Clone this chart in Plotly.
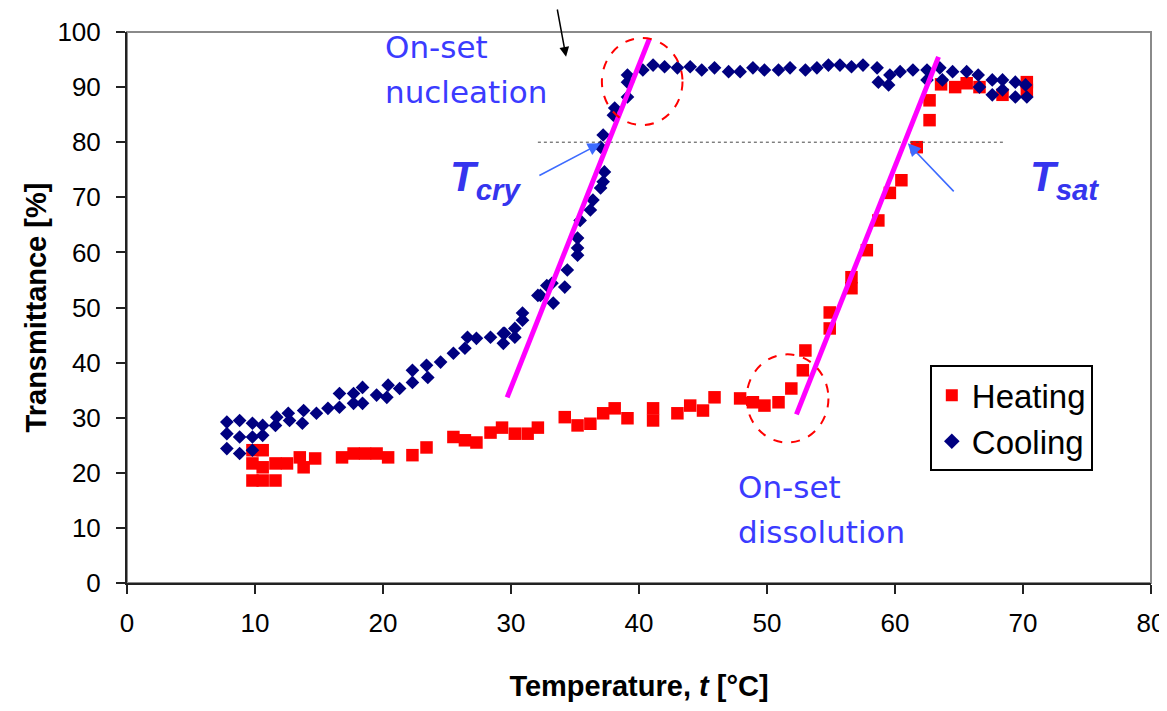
import plotly.graph_objects as go

# ---------------- data ----------------
heating_t = [9.8, 9.8, 9.8, 10.6, 10.6, 10.6, 11.6, 11.6, 12.5, 13.5, 13.8, 14.7,
             16.8, 17.7, 18.6, 19.5, 20.4, 22.3, 23.4, 25.5, 26.4, 27.3, 28.4, 29.3,
             30.3, 31.3, 32.1, 34.2, 35.2, 36.2, 37.2, 38.1, 39.1, 41.1, 41.1, 43.0,
             44.0, 45.0, 45.9, 47.9, 48.9, 49.8, 50.9, 51.9, 52.8, 53.0, 54.9, 54.9,
             56.6, 56.6, 57.8, 58.7, 59.6, 60.5, 61.7, 62.7, 62.7, 63.6, 64.7, 65.6,
             66.6, 68.4, 70.3, 70.3]
heating_T = [18.6, 21.7, 24.1, 24.1, 21.0, 18.6, 21.7, 18.6, 21.7, 22.8, 21.0, 22.6,
             22.8, 23.5, 23.5, 23.5, 22.8, 23.2, 24.6, 26.5, 25.9, 25.5, 27.3, 28.2,
             27.1, 27.1, 28.2, 30.1, 28.6, 28.9, 30.8, 31.7, 29.9, 31.7, 29.5, 30.8,
             32.2, 31.3, 33.7, 33.5, 32.8, 32.2, 32.8, 35.3, 38.6, 42.2, 46.2, 49.1,
             53.5, 55.5, 60.4, 65.8, 70.8, 73.1, 79.1, 84.0, 87.6, 90.5, 90.0, 90.7,
             90.0, 88.6, 90.9, 89.5]

cooling_t = [7.8, 7.8, 7.8, 8.8, 8.8, 8.8, 9.8, 9.8, 9.8, 10.6, 10.6, 11.6, 11.7,
             12.6, 12.7, 13.7, 13.8, 14.8, 15.7, 16.6, 16.6, 17.7, 17.7, 18.4, 18.4,
             19.5, 20.3, 20.4, 21.3, 22.3, 22.3, 23.4, 23.5, 24.5, 25.5, 26.4, 26.6,
             27.3, 28.4, 29.4, 29.4, 29.5, 30.3, 30.3, 30.9, 30.9, 32.1, 32.3, 32.8,
             33.2, 33.3, 34.2, 34.4, 35.2, 35.2, 35.2, 35.4, 36.2, 36.4, 37.0, 37.2,
             37.3, 37.0, 37.2, 38.0, 38.1, 39.1, 39.1, 39.1, 40.3, 41.1, 42.0, 43.0,
             44.0, 44.9, 45.9, 47.0, 47.9, 48.9, 49.8, 50.9, 51.8, 53.0, 53.9, 54.8,
             55.7, 56.6, 57.5, 58.6, 58.7, 59.5, 59.6, 60.4, 61.4, 62.5, 62.5, 63.5,
             63.7, 64.5, 65.6, 66.5, 66.6, 67.6, 67.6, 68.4, 68.4, 69.4, 69.4, 70.2,
             70.3]
cooling_T = [29.2, 27.1, 24.4, 29.5, 26.5, 23.5, 29.0, 26.5, 24.1, 28.6, 26.8, 28.6,
             30.1, 30.8, 29.5, 29.0, 31.3, 30.8, 31.7, 34.4, 31.9, 34.4, 32.6, 35.5,
             32.6, 34.1, 33.7, 35.9, 35.3, 38.6, 36.4, 39.5, 37.3, 40.1, 41.7, 42.6,
             44.6, 44.4, 44.6, 45.3, 43.5, 45.3, 46.2, 44.6, 47.7, 49.0, 52.2, 52.2,
             54.0, 54.4, 50.8, 53.7, 56.8, 59.5, 62.6, 60.8, 65.8, 67.7, 69.5, 71.7,
             72.8, 74.6, 79.1, 81.3, 84.9, 86.2, 88.2, 90.9, 92.2, 93.1, 94.0, 93.7,
             93.5, 93.7, 93.1, 93.5, 92.8, 92.8, 93.5, 93.1, 93.1, 93.5, 93.1, 93.5,
             94.0, 94.0, 93.7, 94.0, 93.5, 90.9, 90.4, 92.2, 92.8, 93.1, 93.1, 91.3,
             93.5, 91.3, 92.8, 92.8, 92.2, 90.0, 91.3, 88.6, 91.3, 89.5, 90.9, 88.2,
             90.4, 88.2]

x_ticks = [0, 10, 20, 30, 40, 50, 60, 70, 80]
y_ticks = [0, 10, 20, 30, 40, 50, 60, 70, 80, 90, 100]

# annotation geometry (data units)
tangent_cry = [(29.7, 33.7), (40.8, 98.7)]
tangent_sat = [(52.3, 30.6), (63.4, 95.5)]
circle_nucl = [(37.1, 83.1), (43.4, 98.9)]
circle_diss = [(48.4, 25.5), (54.8, 41.5)]
ref_line = [(32.1, 80), (68.5, 80)]
arrow_cry = [(32.1, 73.8), (37.0, 79.8)]
arrow_sat = [(64.7, 70.8), (61.0, 79.8)]

BLUE = "#3b3bff"
TICKFONT = dict(family="Liberation Sans Narrow, Arial Narrow, Liberation Sans, Arial",
                size=26, color="black")

fig = go.Figure()
fig.add_trace(go.Scatter(
    x=heating_t, y=heating_T, mode="markers", name="Heating",
    marker=dict(symbol="square", size=12.5, color="#ff0000", line=dict(width=0))))
fig.add_trace(go.Scatter(
    x=cooling_t, y=cooling_T, mode="markers", name="Cooling",
    marker=dict(symbol="diamond", size=10.5, color="#000080", line=dict(width=0))))

shapes = []
# grey top/right border of plot area
shapes.append(dict(type="rect", xref="paper", yref="paper", layer="below",
                   x0=0, x1=1, y0=0, y1=1, line=dict(color="#8a8a8a", width=2)))
# reference dotted line
shapes.append(dict(type="line", x0=ref_line[0][0], y0=ref_line[0][1],
                   x1=ref_line[1][0], y1=ref_line[1][1],
                   line=dict(color="#444444", width=1, dash="dot")))
# tangents
for seg in (tangent_cry, tangent_sat):
    shapes.append(dict(type="line", x0=seg[0][0], y0=seg[0][1], x1=seg[1][0], y1=seg[1][1],
                       line=dict(color="#ff00ff", width=5)))
# dashed circles
for c in (circle_nucl, circle_diss):
    shapes.append(dict(type="circle", x0=c[0][0], y0=c[0][1], x1=c[1][0], y1=c[1][1],
                       line=dict(color="#ff0000", width=2, dash="dash")))

annotations = []
def txt(x, y, s, size=31, color=BLUE, family="DejaVu Sans, Verdana, sans-serif"):
    annotations.append(dict(x=x, y=y, text=s, showarrow=False, xanchor="left",
                            yanchor="middle", font=dict(family=family, size=size, color=color)))

txt(20.0, 97.3, "On-set")
txt(20.0, 89.2, "nucleation")
txt(47.6, 17.4, "On-set")
txt(47.6, 9.2, "dissolution")
txt(25.1, 73.3, "<b><i>T<sub>cry</sub></i></b>", size=42, color="#3535ee",
    family="Liberation Sans, Arial, sans-serif")
txt(70.4, 73.3, "<b><i>T<sub>sat</sub></i></b>", size=42, color="#3535ee",
    family="Liberation Sans, Arial, sans-serif")

for a in (arrow_cry, arrow_sat):
    annotations.append(dict(x=a[1][0], y=a[1][1], ax=a[0][0], ay=a[0][1],
                            axref="x", ayref="y", xref="x", yref="y", text="",
                            showarrow=True, arrowhead=2, arrowsize=1.6, arrowwidth=1.6,
                            arrowcolor="#3d6bff", standoff=0))
# black arrow from top
annotations.append(dict(x=34.3, y=95.5, ax=-9, ay=-60, text="", showarrow=True,
                        arrowhead=2, arrowsize=1.3, arrowwidth=1.5, arrowcolor="black",
                        standoff=0))

# page body has an 8px margin: figure sized/placed so the plot area lands where the
# reference has it (plot area x 127..1151, y 32..582 in the 1167x711 window)
fig.update_layout(
    width=1151, height=695,
    margin=dict(l=119, r=8, t=24, b=120, autoexpand=False),
    paper_bgcolor="white", plot_bgcolor="white",
    shapes=shapes, annotations=annotations,
    showlegend=True,
    legend=dict(x=0.784, y=0.395, xanchor="left", yanchor="top",
                bgcolor="white", bordercolor="black", borderwidth=2,
                font=dict(family="Liberation Sans, Arial, sans-serif", size=33, color="black"),
                itemsizing="constant"),
    xaxis=dict(range=[0, 80], tickvals=x_ticks, ticktext=[str(v) for v in x_ticks],
               automargin=False,
               showgrid=False, zeroline=False, showline=True, linecolor="#222222",
               linewidth=2, ticks="outside", ticklen=9, tickwidth=2, tickcolor="#222222",
               tickfont=TICKFONT, ticklabelstandoff=7, ticklabeloverflow="allow",
               title=dict(text="Temperature, <i>t</i> [°C]", standoff=38,
                          font=dict(family="Liberation Sans, Arial, sans-serif", size=29,
                                    color="black", weight="bold"))),
    yaxis=dict(range=[0, 100], tickvals=y_ticks, ticktext=[str(v) for v in y_ticks],
               automargin=False,
               showgrid=False, zeroline=False, showline=True, linecolor="#222222",
               linewidth=2, ticks="outside", ticklen=9, tickwidth=2, tickcolor="#222222",
               tickfont=TICKFONT, ticklabelstandoff=10,
               title=dict(text="Transmittance [%]", standoff=2,
                          font=dict(family="Liberation Sans, Arial, sans-serif", size=29,
                                    color="black", weight="bold"))),
)

fig.write_html("out.html")
